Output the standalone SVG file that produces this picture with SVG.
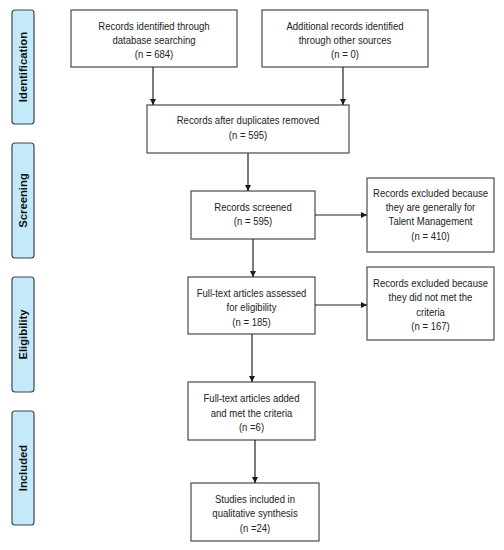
<svg xmlns="http://www.w3.org/2000/svg" width="504" height="550" viewBox="0 0 504 550">
<defs>
<marker id="ah" viewBox="0 0 6 6" refX="6" refY="3" markerWidth="6" markerHeight="6" markerUnits="userSpaceOnUse" orient="auto">
<path d="M0,0 L6,3 L0,6 Z" fill="#1a1a1a"/>
</marker>
<style>
.box{fill:#ffffff;stroke:#4a4a4a;stroke-width:1.2}
.side{fill:#c4eaf9;stroke:#3b4850;stroke-width:1.2}
.t{font-family:"Liberation Sans",Arial,sans-serif;font-size:10.6px;fill:#222;text-anchor:middle}
.s{font-family:"Liberation Sans",Arial,sans-serif;font-size:11.3px;font-weight:bold;fill:#111;text-anchor:middle}
.c{fill:none;stroke:#222;stroke-width:1.2;marker-end:url(#ah)}
</style>
</defs>
<rect width="504" height="550" fill="#ffffff"/>
<g id="side-identification"><rect class="side" x="12" y="10" width="22" height="114" rx="3"/><text class="s" transform="translate(27,67) rotate(-90)">Identification</text></g>
<g id="side-screening"><rect class="side" x="12" y="143" width="22" height="115" rx="3"/><text class="s" transform="translate(27,200.5) rotate(-90)">Screening</text></g>
<g id="side-eligibility"><rect class="side" x="12" y="277" width="22" height="115" rx="3"/><text class="s" transform="translate(27,334.5) rotate(-90)">Eligibility</text></g>
<g id="side-included"><rect class="side" x="12" y="411" width="22" height="114" rx="3"/><text class="s" transform="translate(27,468) rotate(-90)">Included</text></g>

<g id="n-database"><rect class="box" x="71" y="10" width="166" height="57"/>
<g transform="translate(154,0) scale(0.9,1)">
<text class="t" x="0" y="30">Records identified through</text>
<text class="t" x="0" y="44">database searching</text>
<text class="t" x="0" y="58">(n = 684)</text></g></g>
<g id="n-other"><rect class="box" x="262" y="10" width="166" height="57"/>
<g transform="translate(345,0) scale(0.9,1)">
<text class="t" x="0" y="30">Additional records identified</text>
<text class="t" x="0" y="44">through other sources</text>
<text class="t" x="0" y="58">(n = 0)</text></g></g>
<g id="n-duplicates"><rect class="box" x="147" y="105" width="202" height="48"/>
<g transform="translate(248,0) scale(0.9,1)">
<text class="t" x="0" y="124">Records after duplicates removed</text>
<text class="t" x="0" y="139">(n = 595)</text></g></g>
<g id="n-screened"><rect class="box" x="191" y="191" width="124" height="48"/>
<g transform="translate(253,0) scale(0.9,1)">
<text class="t" x="0" y="211">Records screened</text>
<text class="t" x="0" y="225">(n = 595)</text></g></g>
<g id="n-excluded1"><rect class="box" x="367" y="178" width="127" height="74"/>
<g transform="translate(430.5,0) scale(0.9,1)">
<text class="t" x="0" y="197">Records excluded because</text>
<text class="t" x="0" y="211">they are generally for</text>
<text class="t" x="0" y="225">Talent Management</text>
<text class="t" x="0" y="240">(n = 410)</text></g></g>
<g id="n-fulltext"><rect class="box" x="188" y="277" width="127" height="57"/>
<g transform="translate(251.5,0) scale(0.9,1)">
<text class="t" x="0" y="297">Full-text articles assessed</text>
<text class="t" x="0" y="311">for eligibility</text>
<text class="t" x="0" y="326">(n = 185)</text></g></g>
<g id="n-excluded2"><rect class="box" x="367" y="267" width="127" height="73"/>
<g transform="translate(430.5,0) scale(0.9,1)">
<text class="t" x="0" y="287">Records excluded because</text>
<text class="t" x="0" y="301">they did not met the</text>
<text class="t" x="0" y="316">criteria</text>
<text class="t" x="0" y="330">(n = 167)</text></g></g>
<g id="n-added"><rect class="box" x="188" y="382" width="127" height="58"/>
<g transform="translate(251.5,0) scale(0.9,1)">
<text class="t" x="0" y="402">Full-text articles added</text>
<text class="t" x="0" y="417">and met the criteria</text>
<text class="t" x="0" y="431">(n =6)</text></g></g>
<g id="n-studies"><rect class="box" x="191" y="483" width="128" height="58"/>
<g transform="translate(255,0) scale(0.9,1)">
<text class="t" x="0" y="503">Studies included in</text>
<text class="t" x="0" y="517">qualitative synthesis</text>
<text class="t" x="0" y="532">(n =24)</text></g></g>

<g id="connectors">
<line class="c" x1="153" y1="67" x2="153" y2="105"/>
<line class="c" x1="343" y1="67" x2="343" y2="105"/>
<line class="c" x1="248" y1="153" x2="248" y2="191"/>
<line class="c" x1="315" y1="215" x2="367" y2="215"/>
<line class="c" x1="253" y1="239" x2="253" y2="277"/>
<line class="c" x1="315" y1="305" x2="367" y2="305"/>
<line class="c" x1="252" y1="334" x2="252" y2="382"/>
<line class="c" x1="255" y1="440" x2="255" y2="483"/>
</g>
</svg>
